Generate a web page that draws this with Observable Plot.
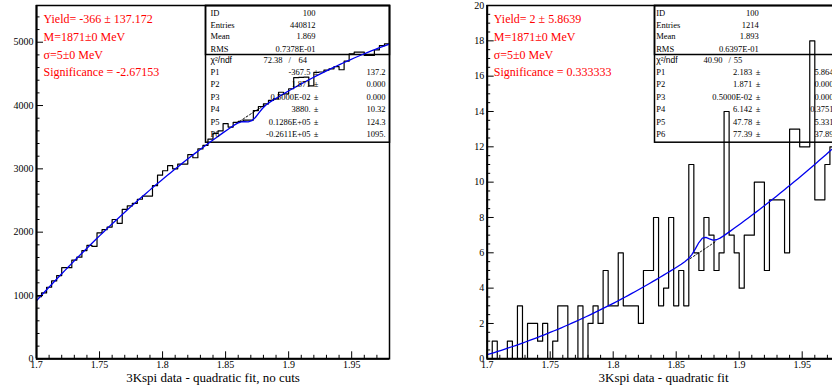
<!DOCTYPE html>
<html><head><meta charset="utf-8">
<script src="https://cdn.jsdelivr.net/npm/d3@7"></script>
<script src="https://cdn.jsdelivr.net/npm/@observablehq/plot@0.6"></script>
<style>
html,body{margin:0;padding:0;background:#fff;overflow:hidden;}
#wrap{position:relative;width:832px;height:392px;overflow:hidden;background:#fff;}
#left,#right{position:absolute;top:0;}
#left{left:0px;width:416px;}
#right{left:416px;width:432px;}
#wrap svg{max-width:none !important;}
</style></head><body><div id="wrap"><div id="left"></div><div id="right"></div></div>
<script>
// ---------------- data ----------------
const binStart = 1.7;
const binWidth = 0.004;
const xMajorTicks = [1.7, 1.75, 1.8, 1.85, 1.9, 1.95];
const xTickLabels = ["1.7", "1.75", "1.8", "1.85", "1.9", "1.95"];

// left histogram: 3Kspi data - quadratic fit, no cuts (70 bins)
const leftCounts = [
  980, 1040, 1130, 1230, 1315, 1440, 1440, 1560, 1605, 1710,
  1790, 1775, 1990, 2040, 2080, 2200, 2140, 2360, 2415, 2455,
  2520, 2570, 2570, 2735, 2900, 2970, 3050, 3000, 3075, 3075,
  3225, 3175, 3315, 3370, 3470, 3560, 3600, 3715, 3660, 3735,
  3750, 3770, 3770, 3920, 3985, 4025, 4080, 4105, 4210, 4185,
  4265, 4440, 4445, 4450, 4310, 4525, 4530, 4560, 4580, 4615,
  4565, 4700, 4815, 4845, 4845, 4790, 4790, 4880, 4945, 4975
];
const leftYTicks = [0, 1000, 2000, 3000, 4000, 5000];
const leftYLabels = ["0", "1000", "2000", "3000", "4000", "5000"];
const leftFitPars = [-367.5, 1.871, 0.005, 3880, 12860, -26110];
const leftRed = ["Yield= -366 \u00b1 137.172", "M=1871\u00b10 MeV", "\u03c3=5\u00b10 MeV", "Significance = -2.67153"];
const leftStatLabels = ["ID", "Entries", "Mean", "RMS"];
const leftStatValues = ["100", "440812", "1.869", "0.7378E-01"];
const leftChi2 = ["72.38", "/", "64"];
const leftParNames = ["P1", "P2", "P3", "P4", "P5", "P6"];
const leftParValues = ["-367.5", "1.871", "0.5000E-02", "3880.", "0.1286E+05", "-0.2611E+05"];
const leftParErrors = ["137.2", "0.000", "0.000", "10.32", "124.3", "1095."];
const leftTitle = "3Kspi data - quadratic fit, no cuts";

// right histogram: 3Kspi data - quadratic fit (70 bins)
const rightCounts = [
  0, 1, 0, 0, 1, 0, 3, 0, 2, 2,
  1, 2, 0, 1, 3, 3, 0, 0, 3, 0,
  2, 3, 2, 5, 3, 3, 6, 3, 3, 3,
  2, 5, 5, 8, 3, 4, 8, 3, 5, 3,
  11, 6, 5, 8, 7, 5, 6, 14, 7, 6,
  4, 7, 7, 10, 10, 5, 9, 9, 9, 6,
  13, 13, 12, 12, 18, 9, 9, 11, 12, 12
];
const rightYTicks = [0, 2, 4, 6, 8, 10, 12, 14, 16, 18, 20];
const rightYLabels = ["0", "2", "4", "6", "8", "10", "12", "14", "16", "18", "20"];
const rightFitPars = [2.183, 1.871, 0.005, 6.142, 47.78, 77.39];
const rightRed = ["Yield= 2 \u00b1 5.8639", "M=1871\u00b10 MeV", "\u03c3=5\u00b10 MeV", "Significance = 0.333333"];
const rightStatLabels = ["ID", "Entries", "Mean", "RMS"];
const rightStatValues = ["100", "1214", "1.893", "0.6397E-01"];
const rightChi2 = ["40.90", "/", "55"];
const rightParNames = ["P1", "P2", "P3", "P4", "P5", "P6"];
const rightParValues = ["2.183", "1.871", "0.5000E-02", "6.142", "47.78", "77.39"];
const rightParErrors = ["5.864", "0.000", "0.000", "0.3751", "5.331", "37.89"];
const rightTitle = "3Kspi data - quadratic fit";

// ---------------- drawing ----------------
const SERIF = "Liberation Serif, Times New Roman, serif";
const SANS = "Liberation Sans, Arial, sans-serif";
const xMin = 1.7, xMax = 1.98;

function histSteps(counts) {
  const pts = counts.map((c, i) => ({x: binStart + i * binWidth, y: c}));
  pts.push({x: binStart + counts.length * binWidth, y: counts[counts.length - 1]});
  return pts;
}
function fitValue(x, p, withGauss) {
  const d = x - p[1];
  let v = p[3] + p[4] * d + p[5] * d * d;
  if (withGauss) v += p[0] * binWidth / (Math.sqrt(2 * Math.PI) * p[2]) * Math.exp(-0.5 * (d / p[2]) ** 2);
  return v;
}

function panel(cfg) {
  const {counts, ymax, yTicks, yLabels, yMinorStep, fitPars, red, statLabels, statValues, chi2,
         parNames, parValues, parErrors, title, svgLeft, width, marginLeft, marginRight, lay} = cfg;
  const marginTop = 5, height = 392, marginBottom = 33.7;
  const H = height - marginTop - marginBottom;
  const W = width - marginLeft - marginRight;
  const L = svgLeft + marginLeft, T = marginTop; // page coords of frame top-left

  const txt = (s, px, py, anchor, extra = {}) => Plot.text([s], {
    text: d => d, frameAnchor: "top-left", dx: px - L, dy: py - T,
    textAnchor: anchor, lineAnchor: "middle", fontSize: 8.5, fill: "black", fontFamily: SERIF, ...extra
  });

  const xMinor = d3.range(0, 29).map(k => +(1.7 + k * 0.01).toFixed(3)).filter(v => !xMajorTicks.some(m => Math.abs(m - v) < 1e-9) && v <= xMax);
  const nMinor = Math.floor(ymax / yMinorStep + 1e-9);
  const yMinor = d3.range(0, nMinor + 1).map(k => k * yMinorStep).filter(v => !yTicks.includes(v));

  const fitN = 100;
  const fitPts = d3.range(fitN + 1).map(k => { const x = xMin + (xMax - xMin) * k / fitN; return {x, y: fitValue(x, fitPars, true)}; });
  const bgLo = fitPars[1] - 2 * fitPars[2], bgHi = fitPars[1] + 2 * fitPars[2];
  const bgPts = d3.range(21).map(k => { const x = bgLo + (bgHi - bgLo) * k / 20; return {x, y: fitValue(x, fitPars, false)}; });

  const rowY = [12.7, 24.3, 36, 48.3];
  const chiY = 59.3;
  const parY = d3.range(6).map(k => 71.7 + 12.46 * k);

  const marks = [
    // stats box
    Plot.frame({insetLeft: lay.box - L, insetBottom: H - (141.7 - T), stroke: "black", strokeWidth: 1.5}),
    Plot.frame({insetLeft: lay.box - L, insetBottom: H - (54 - T), stroke: "black", strokeWidth: 1.5}),
    // histogram
    Plot.line(histSteps(counts), {x: "x", y: "y", curve: "step-after", stroke: "black", strokeWidth: 1.2, clip: true}),
    // background (dashed) and fit (blue)
    Plot.line(bgPts, {x: "x", y: "y", stroke: "black", strokeWidth: 1, strokeDasharray: "2,2", clip: true}),
    Plot.line(fitPts, {x: "x", y: "y", stroke: "#0000ee", strokeWidth: 1.3, clip: true}),
    // frame
    Plot.frame({stroke: "black", strokeWidth: 1.5}),
    Plot.ruleY([0], {stroke: "black", strokeWidth: 2}),
    Plot.ruleX([xMin], {stroke: "black", strokeWidth: 2}),
    // inward ticks
    Plot.tickX(xMajorTicks, {x: d => d, insetTop: H - 7, stroke: "black", strokeWidth: 1}),
    Plot.tickX(xMinor, {x: d => d, insetTop: H - 3.5, stroke: "black", strokeWidth: 1}),
    Plot.tickY(yTicks, {y: d => d, insetRight: W - 7, stroke: "black", strokeWidth: 1}),
    Plot.tickY(yMinor, {y: d => d, insetRight: W - 3.5, stroke: "black", strokeWidth: 1}),
    // tick labels
    Plot.axisX({ticks: xMajorTicks, tickSize: 0, tickPadding: 2, tickFormat: (d, i) => xTickLabels[i], fontSize: 10, label: null}),
    Plot.axisY({ticks: yTicks, tickSize: 0, tickPadding: 3, tickFormat: (d, i) => yLabels[i], fontSize: 10, label: null}),
    // axis title
    Plot.text([title], {text: d => d, frameAnchor: "bottom", dy: 19.5, lineAnchor: "middle", fontSize: 13, fill: "black", fontFamily: SERIF}),
    // red annotation
    ...red.map((s, i) => txt(s, lay.red, [19, 36.7, 54.3, 71.7][i], "start", {fontSize: 12, fill: "#ff0000"})),
    // stats text
    ...statLabels.map((s, i) => txt(s, lay.label, rowY[i], "start")),
    ...statValues.map((s, i) => txt(s, lay.idVal, rowY[i], "end")),
    txt("\u03c7\u00b2/ndf", lay.label, chiY, "start", {fontFamily: SANS}),
    txt(chi2[0], lay.chiA, chiY, "end"),
    txt(chi2[1], lay.chiSlash, chiY, "middle"),
    txt(chi2[2], lay.chiB, chiY, "end"),
    ...parNames.map((s, i) => txt(s, lay.label, parY[i], "start")),
    ...parValues.map((s, i) => txt(s, lay.parVal, parY[i], "end")),
    ...parNames.map((s, i) => txt("\u00b1", lay.pm, parY[i], "middle")),
    ...parErrors.map((s, i) => txt(s, lay.err, parY[i], "end"))
  ];

  return Plot.plot({
    width, height, marginTop, marginBottom, marginLeft, marginRight,
    style: {fontFamily: SERIF, fontSize: "10px", color: "black", background: "white", maxWidth: "none", overflow: "visible"},
    x: {domain: [xMin, xMax], axis: null},
    y: {domain: [0, ymax], axis: null},
    marks
  });
}

document.getElementById("left").appendChild(panel({
  counts: leftCounts, ymax: 5580, yTicks: leftYTicks, yLabels: leftYLabels, yMinorStep: 200,
  fitPars: leftFitPars, red: leftRed, statLabels: leftStatLabels, statValues: leftStatValues, chi2: leftChi2,
  parNames: leftParNames, parValues: leftParValues, parErrors: leftParErrors, title: leftTitle,
  svgLeft: 0, width: 416, marginLeft: 36, marginRight: 27,
  lay: {box: 205, red: 43, label: 210, idVal: 315, chiA: 282, chiSlash: 289.3, chiB: 306.5, parVal: 310, pm: 315.5, err: 385}
}));
document.getElementById("right").appendChild(panel({
  counts: rightCounts, ymax: 20, yTicks: rightYTicks, yLabels: rightYLabels, yMinorStep: 0.5,
  fitPars: rightFitPars, red: rightRed, statLabels: rightStatLabels, statValues: rightStatValues, chi2: rightChi2,
  parNames: rightParNames, parValues: rightParValues, parErrors: rightParErrors, title: rightTitle,
  svgLeft: 416, width: 432, marginLeft: 70.7, marginRight: 8.5,
  lay: {box: 654, red: 493.3, label: 655.7, idVal: 758.3, chiA: 722, chiSlash: 729.3, chiB: 741.7, parVal: 751.7, pm: 757.5, err: 833}
}));
</script></body></html>
